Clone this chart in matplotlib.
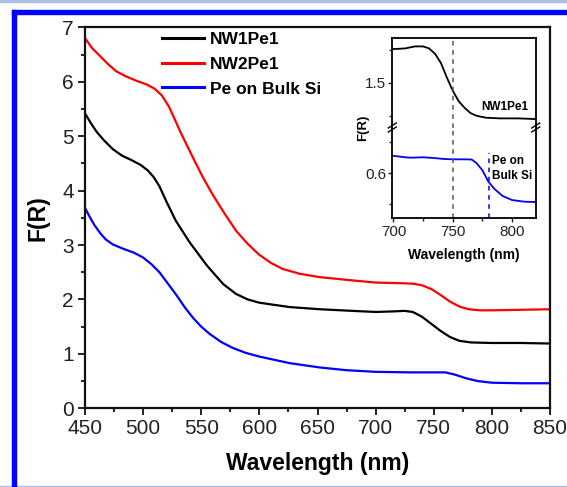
import matplotlib
matplotlib.use("Agg")
import matplotlib.pyplot as plt
from matplotlib.patches import Rectangle
from matplotlib.ticker import MultipleLocator, FixedLocator

plt.rcParams['font.family'] = ['Liberation Sans', 'DejaVu Sans']

# ---------------- data ----------------
series_names = ["NW1Pe1", "NW2Pe1", "Pe on Bulk Si"]
series_colors = ["#000000", "#ff0000", "#0000ff"]

wl_nw1 = [450, 455, 460, 466, 474, 482, 490, 498, 504, 509, 514, 520, 528, 540, 555, 569, 580, 590,
          600, 626, 652, 680, 700, 715, 725, 732, 740, 748, 756, 764, 772, 782, 800, 825, 850]
fr_nw1 = [5.42, 5.24, 5.08, 4.93, 4.76, 4.64, 4.56, 4.47, 4.37, 4.25, 4.08, 3.80, 3.45, 3.05, 2.62,
          2.28, 2.10, 2.00, 1.94, 1.86, 1.82, 1.79, 1.77, 1.78, 1.79, 1.77, 1.68, 1.55, 1.42, 1.31,
          1.24, 1.21, 1.20, 1.20, 1.19]

wl_nw2 = [450, 456, 463, 470, 477, 485, 494, 503, 510, 516, 522, 527, 532, 543, 552, 560, 570, 580,
          590, 600, 610, 620, 635, 652, 675, 700, 720, 732, 740, 748, 756, 764, 772, 780, 790, 800,
          825, 850]
fr_nw2 = [6.80, 6.62, 6.47, 6.32, 6.19, 6.10, 6.02, 5.95, 5.87, 5.75, 5.55, 5.32, 5.08, 4.60, 4.22,
          3.92, 3.58, 3.26, 3.02, 2.82, 2.67, 2.56, 2.47, 2.41, 2.36, 2.31, 2.30, 2.29, 2.26, 2.19,
          2.08, 1.96, 1.87, 1.82, 1.80, 1.80, 1.81, 1.82]

wl_bulk = [450, 454, 458, 463, 468, 474, 483, 492, 500, 507, 514, 521, 529, 536, 543, 550, 557, 567,
           577, 588, 600, 626, 652, 675, 700, 730, 760, 768, 778, 788, 800, 825, 850]
fr_bulk = [3.68, 3.52, 3.37, 3.22, 3.10, 3.01, 2.93, 2.86, 2.77, 2.65, 2.50, 2.30, 2.07, 1.85, 1.66,
           1.50, 1.37, 1.22, 1.11, 1.02, 0.95, 0.83, 0.75, 0.70, 0.67, 0.66, 0.66, 0.62, 0.55, 0.50,
           0.47, 0.46, 0.46]

# inset (zoomed 700-820 nm, broken y axis)
inset_wl_nw1 = [700, 710, 718, 725, 730, 735, 740, 745, 750, 755, 760, 765, 770, 778, 790, 805, 820]
inset_fr_nw1 = [1.755, 1.76, 1.775, 1.775, 1.76, 1.72, 1.65, 1.54, 1.44, 1.36, 1.31, 1.27, 1.25,
                1.235, 1.23, 1.23, 1.225]
inset_wl_bulk = [700, 710, 715, 725, 735, 742, 750, 760, 766, 770, 775, 780, 785, 792, 800, 810, 820]
inset_fr_bulk = [0.685, 0.678, 0.676, 0.678, 0.674, 0.670, 0.668, 0.668, 0.667, 0.65, 0.615, 0.56,
                 0.525, 0.49, 0.47, 0.462, 0.46]
inset_mark_nw1 = 750
inset_mark_bulk = 781

x_ticks = [450, 500, 550, 600, 650, 700, 750, 800, 850]
y_ticks = [0, 1, 2, 3, 4, 5, 6, 7]
inset_x_ticks = [700, 750, 800]

# ---------------- figure ----------------
W, H = 567, 487
fig = plt.figure(figsize=(W / 100, H / 100), dpi=100)

# decorative frame
fig.patches.append(Rectangle((0, H - 2), W, 2, transform=None, color="#a9bfe3", zorder=0))
fig.patches.append(Rectangle((0, 0), W, 1.5, transform=None, color="#a9bfe3", zorder=0))
fig.patches.append(Rectangle((12, H - 14), W - 12, 4.5, transform=None, color="#0000ff", zorder=0))
fig.patches.append(Rectangle((12, 0), 4, H - 9.5, transform=None, color="#0000ff", zorder=0))


def px_axes(l, t, r, b):
    return [l / W, 1 - b / H, (r - l) / W, (b - t) / H]


ax = fig.add_axes(px_axes(85, 27.3, 550, 408.3))
for xs, ys, c, n in zip([wl_nw1, wl_nw2, wl_bulk], [fr_nw1, fr_nw2, fr_bulk], series_colors, series_names):
    ax.plot(xs, ys, color=c, lw=1.6, label=n)
ax.set_xlim(450, 850)
ax.set_ylim(0, 7)
ax.set_xticks(x_ticks)
ax.set_yticks(y_ticks)
ax.xaxis.set_minor_locator(MultipleLocator(25))
ax.yaxis.set_minor_locator(MultipleLocator(0.5))
ax.tick_params(which='both', direction='out', top=False, right=False, width=1.4, colors='#222222')
ax.tick_params(which='major', length=5, labelsize=15, pad=3)
ax.tick_params(which='minor', length=3)
for s in ax.spines.values():
    s.set_linewidth(1.6)
    s.set_color('#111111')
ax.set_xlabel("Wavelength (nm)", fontsize=16.5, fontweight='bold', labelpad=10)
ax.set_ylabel("F(R)", fontsize=16.5, fontweight='bold', labelpad=9)

leg = ax.legend(loc='upper left', bbox_to_anchor=(162 / W, 1 - 32 / H), bbox_transform=fig.transFigure,
                frameon=False, borderpad=0, borderaxespad=0, handlelength=2.4, handletextpad=0.35,
                labelspacing=0.55, prop={'weight': 'bold', 'size': 12.5})
for line in leg.get_lines():
    line.set_linewidth(2.2)

# ---------------- inset ----------------
axt = fig.add_axes(px_axes(392.3, 37.7, 535.7, 127.5))
axb = fig.add_axes(px_axes(392.3, 127.5, 535.7, 218.3))

axt.plot(inset_wl_nw1, inset_fr_nw1, color=series_colors[0], lw=1.3)
axb.plot(inset_wl_bulk, inset_fr_bulk, color=series_colors[2], lw=1.3)
axt.axvline(inset_mark_nw1, color='#555555', ls=(0, (3, 3)), lw=1.1)
axb.axvline(inset_mark_nw1, color='#555555', ls=(0, (3, 3)), lw=1.1)
axb.axvline(inset_mark_bulk, ymax=0.72, color='#0000ff', ls=(0, (3, 3)), lw=1.1)

for a in (axt, axb):
    a.set_xlim(699, 820)
    a.set_xticks(inset_x_ticks)
    a.xaxis.set_minor_locator(FixedLocator([725, 775]))
    a.tick_params(which='both', direction='out', top=False, right=False, width=1.0, colors='#222222')
    a.tick_params(which='major', length=3, labelsize=11, pad=1.5)
    a.tick_params(which='minor', length=2)
    for s in a.spines.values():
        s.set_linewidth(1.3)

axt.set_ylim(1.161, 1.841)
axt.yaxis.set_major_locator(FixedLocator([1.5]))
axt.yaxis.set_minor_locator(FixedLocator([1.25, 1.75]))
axt.set_yticklabels(["1.5"])
axt.spines['bottom'].set_visible(False)
axt.tick_params(axis='x', which='both', bottom=False, labelbottom=False)

axb.set_ylim(0.381, 0.823)
axb.yaxis.set_major_locator(FixedLocator([0.6]))
axb.yaxis.set_minor_locator(FixedLocator([0.45, 0.75]))
axb.set_yticklabels(["0.6"])
axb.spines['top'].set_visible(False)
axb.set_xlabel("Wavelength (nm)", fontsize=10, fontweight='bold', labelpad=7)

# break marks
d = 4
for xpix in (392.3, 535.7):
    for off in (-2, 2):
        fig.lines.append(plt.Line2D([xpix - d, xpix + d], [H - 127.5 + off - 2.5, H - 127.5 + off + 2.5],
                                    transform=None, color='black', lw=1.0))

fig.text(363 / W, 1 - 127.5 / H, "F(R)", rotation=90, ha='center', va='center',
         fontsize=9.5, fontweight='bold')
axt.text(794, 1.32, "NW1Pe1", ha='center', va='center', fontsize=8.5, fontweight='bold')
axb.text(783, 0.623, "Pe on\nBulk Si", ha='left', va='center', fontsize=8.5, fontweight='bold',
         linespacing=1.35)

fig.savefig("out.png", dpi=100)
